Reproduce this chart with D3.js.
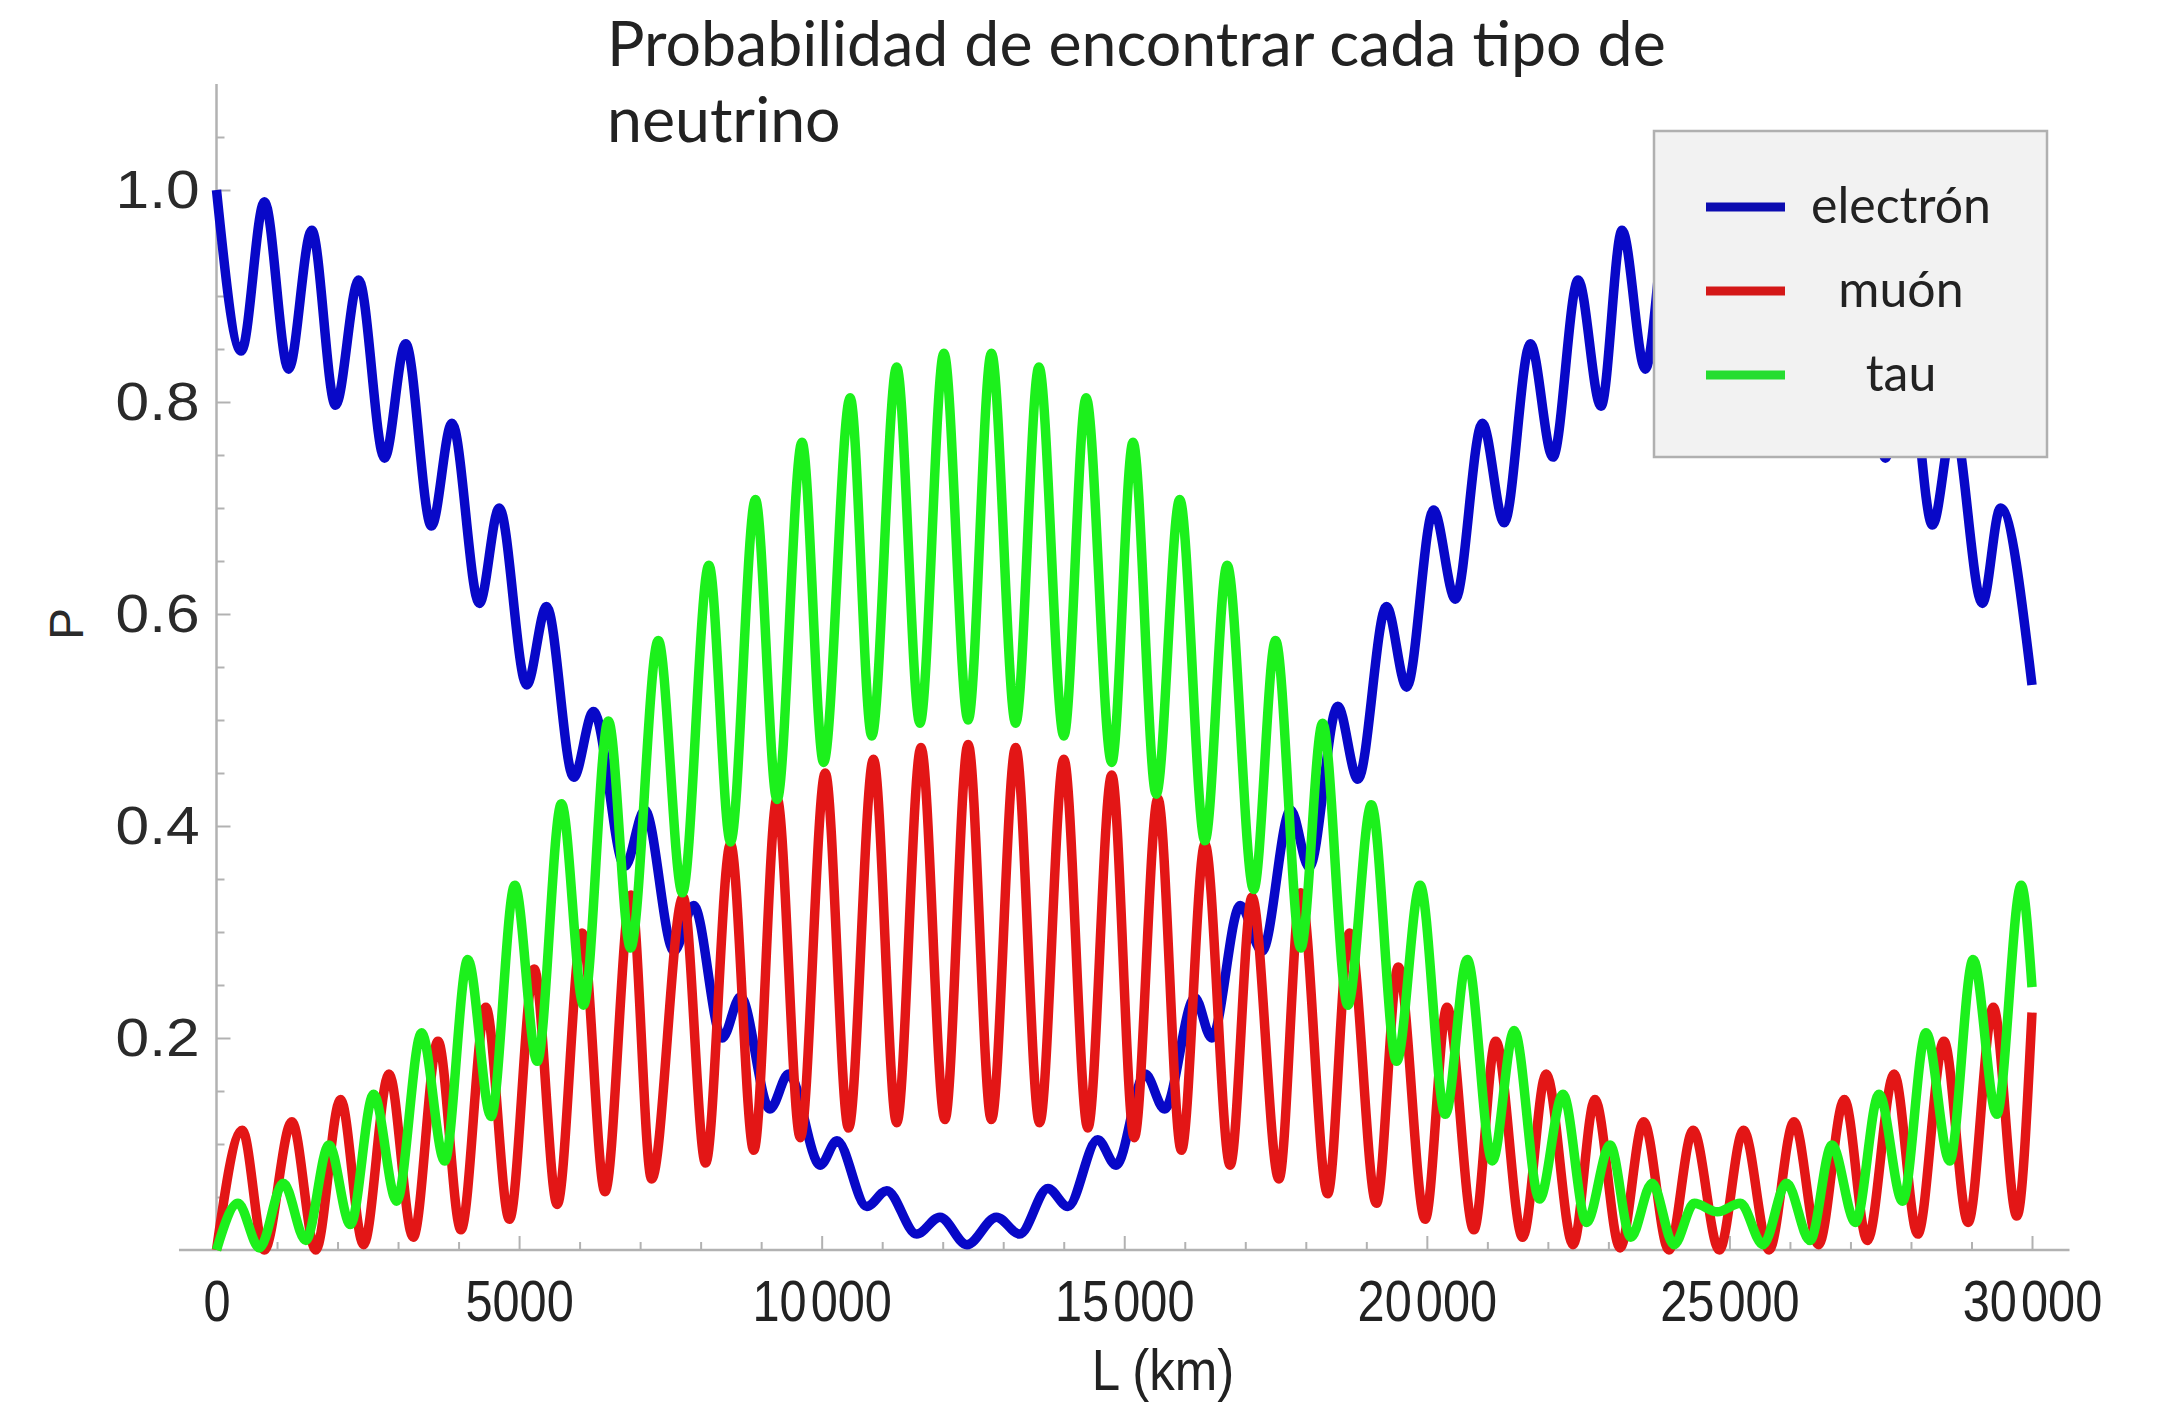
<!DOCTYPE html>
<html>
<head>
<meta charset="utf-8">
<script src="https://cdn.jsdelivr.net/npm/d3@7"></script>
<style>
html, body { margin: 0; padding: 0; background: #fff; }
svg { display: block; }
</style>
</head>
<body>
<svg id="chart"></svg>
<script>
// Extremos: [L (km), P]
const electron = [[0,1.000],[410,0.848],[792,0.989],[1191,0.831],[1574,0.962],[1967,0.797],[2350,0.915],[2776,0.747],[3126,0.855],[3552,0.683],[3891,0.780],[4344,0.610],[4672,0.700],[5126,0.533],[5454,0.607],[5902,0.446],[6230,0.508],[6749,0.362],[7077,0.415],[7560,0.282],[7885,0.325],[8357,0.200],[8660,0.239],[9145,0.133],[9455,0.166],[9977,0.080],[10252,0.103],[10746,0.041],[11075,0.056],[11570,0.015],[11954,0.031],[12400,0.005],[12888,0.031],[13272,0.015],[13739,0.058],[14068,0.041],[14562,0.104],[14864,0.080],[15345,0.166],[15667,0.133],[16167,0.238],[16444,0.200],[16917,0.325],[17278,0.282],[17750,0.415],[18056,0.361],[18528,0.513],[18861,0.444],[19333,0.607],[19667,0.531],[20111,0.698],[20472,0.614],[20917,0.780],[21278,0.686],[21711,0.855],[22083,0.748],[22500,0.915],[22878,0.796],[23226,0.962],[23611,0.831],[24010,0.989],[24390,0.844],[24800,0.964],[25210,0.844],[25590,0.989],[25990,0.831],[26370,0.962],[26770,0.797],[27150,0.915],[27576,0.747],[27930,0.855],[28355,0.684],[28700,0.780],[29180,0.610],[29480,0.700],[30000,0.533]];

const muon = [[0,0.000],[426,0.113],[790,0.000],[1246,0.121],[1640,0.000],[2050,0.142],[2430,0.005],[2850,0.166],[3250,0.012],[3660,0.197],[4040,0.019],[4450,0.229],[4840,0.029],[5250,0.265],[5630,0.043],[6040,0.299],[6420,0.055],[6850,0.335],[7190,0.067],[7710,0.333],[8082,0.082],[8494,0.383],[8879,0.094],[9263,0.426],[9647,0.106],[10059,0.450],[10444,0.115],[10856,0.463],[11240,0.120],[11641,0.474],[12036,0.123],[12420,0.477],[12805,0.123],[13206,0.474],[13601,0.120],[14002,0.463],[14398,0.115],[14793,0.448],[15166,0.106],[15556,0.426],[15944,0.094],[16333,0.383],[16750,0.080],[17111,0.333],[17556,0.067],[17917,0.337],[18361,0.053],[18722,0.299],[19167,0.044],[19528,0.267],[19972,0.029],[20333,0.229],[20778,0.019],[21139,0.197],[21583,0.012],[21972,0.166],[22417,0.005],[22778,0.142],[23194,0.002],[23583,0.121],[24000,0.000],[24400,0.113],[24833,0.000],[25233,0.113],[25656,0.000],[26067,0.121],[26472,0.005],[26900,0.142],[27278,0.009],[27722,0.166],[28111,0.015],[28544,0.197],[28944,0.026],[29361,0.229],[29750,0.032],[30000,0.224]];

const tau = [[0,0.000],[355,0.044],[710,0.002],[1104,0.063],[1475,0.009],[1858,0.099],[2213,0.024],[2596,0.147],[2978,0.046],[3388,0.205],[3770,0.084],[4153,0.274],[4536,0.126],[4929,0.344],[5300,0.178],[5699,0.421],[6066,0.231],[6475,0.499],[6842,0.285],[7300,0.575],[7698,0.337],[8137,0.646],[8494,0.385],[8906,0.708],[9263,0.425],[9675,0.762],[10032,0.460],[10471,0.804],[10828,0.485],[11240,0.833],[11624,0.497],[12020,0.846],[12420,0.500],[12805,0.846],[13206,0.497],[13590,0.833],[14002,0.485],[14370,0.804],[14793,0.460],[15145,0.762],[15528,0.430],[15917,0.708],[16333,0.386],[16700,0.646],[17139,0.340],[17500,0.575],[17917,0.285],[18278,0.497],[18694,0.231],[19083,0.420],[19500,0.178],[19889,0.344],[20306,0.128],[20667,0.274],[21083,0.084],[21444,0.207],[21861,0.048],[22250,0.147],[22639,0.026],[23028,0.099],[23370,0.012],[23722,0.063],[24083,0.005],[24420,0.044],[24800,0.036],[25180,0.044],[25556,0.005],[25944,0.063],[26333,0.009],[26694,0.099],[27083,0.026],[27472,0.147],[27861,0.046],[28250,0.205],[28639,0.084],[29028,0.274],[29417,0.128],[29822,0.344],[30000,0.248]];

const seriesNames = ["electrón", "muón", "tau"];
const seriesColors = ["#0808c8", "#e31616", "#1cf01c"];
const legendColors = ["#0c0cb0", "#d41818", "#25dd30"];

const xTicks = [0, 5000, 10000, 15000, 20000, 25000, 30000];
const xTickLabels = ["0", "5000", "10\u200a000", "15\u200a000", "20\u200a000", "25\u200a000", "30\u200a000"];
const xMinor = d3.range(1000, 30001, 1000).filter(v => v % 5000 !== 0);
const yTicks = [0.2, 0.4, 0.6, 0.8, 1.0];
const yTickLabels = ["0.2", "0.4", "0.6", "0.8", "1.0"];
const yMinor = [0.05,0.1,0.15,0.25,0.3,0.35,0.45,0.5,0.55,0.65,0.7,0.75,0.85,0.9,0.95,1.05];

const titleLines = ["Probabilidad de encontrar cada tipo de", "neutrino"];

// Dimensiones
const W = 2163, H = 1409;
const svg = d3.select("#chart").attr("width", W).attr("height", H);
svg.append("rect").attr("width", W).attr("height", H).attr("fill", "#fff");

const x = d3.scaleLinear().domain([0, 30000]).range([216.5, 2032]);
const y = d3.scaleLinear().domain([0, 1]).range([1250, 190]);

const axisColor = "#b2b2b2";

// Ejes
const gx = svg.append("g").attr("transform", `translate(0, ${y(0)})`);
gx.append("line")
  .attr("x1", x(-620)).attr("x2", x(30620))
  .attr("stroke", axisColor).attr("stroke-width", 2.5);
gx.append("g")
  .call(d3.axisBottom(x).tickValues(xMinor).tickSize(-8).tickFormat(""))
  .call(g => g.select(".domain").remove());
gx.append("g")
  .call(d3.axisBottom(x).tickValues(xTicks).tickSize(-14).tickPadding(30)
        .tickFormat((d, i) => xTickLabels[i]))
  .call(g => g.select(".domain").remove())
  .call(g => g.selectAll("text")
      .attr("fill", "#222")
      .style("font-family", "'Liberation Sans', Arial, sans-serif")
      .style("font-size", "58px")
      .attr("transform", "scale(0.84,1)"));
gx.selectAll(".tick line").attr("stroke", axisColor).attr("stroke-width", 2);

const gy = svg.append("g").attr("transform", `translate(${x(0)}, 0)`);
gy.append("line")
  .attr("y1", y(0)).attr("y2", y(1.1))
  .attr("stroke", axisColor).attr("stroke-width", 2.5);
gy.append("g")
  .call(d3.axisLeft(y).tickValues(yMinor).tickSize(-8).tickFormat(""))
  .call(g => g.select(".domain").remove());
gy.append("g")
  .call(d3.axisLeft(y).tickValues(yTicks).tickSize(-14).tickPadding(15)
        .tickFormat((d, i) => yTickLabels[i]))
  .call(g => g.select(".domain").remove())
  .call(g => g.selectAll("text")
      .attr("fill", "#2a2a2a")
      .style("font-family", "'Liberation Sans', Arial, sans-serif")
      .style("font-size", "54px")
      .attr("transform", "scale(1.12,1)"));
gy.selectAll(".tick line").attr("stroke", axisColor).attr("stroke-width", 2);

// Curvas
const line = d3.line()
  .x(d => x(d[0]))
  .y(d => y(d[1]))
  .curve(d3.curveMonotoneX);

[electron, muon, tau].forEach((serie, i) => {
  svg.append("path")
    .datum(serie)
    .attr("fill", "none")
    .attr("stroke", seriesColors[i])
    .attr("stroke-width", 9.5)
    .attr("stroke-linejoin", "round")
    .attr("d", line);
});

// Titulo
const title = svg.append("g")
  .style("font-family", "Lato, 'Open Sans', sans-serif")
  .attr("fill", "#222");
const t1 = title.append("text").attr("x", 607).attr("y", 66)
  .style("font-size", "56px").text(titleLines[0]);
const t2 = title.append("text").attr("x", 607).attr("y", 142)
  .style("font-size", "56px").text(titleLines[1]);
const fs = 56 * 1059 / t1.node().getComputedTextLength();
t1.style("font-size", fs + "px");
t2.style("font-size", fs + "px");

// Etiquetas de ejes
svg.append("text")
  .attr("transform", "translate(83, 624) rotate(-90)")
  .attr("text-anchor", "middle")
  .attr("fill", "#2a2a2a")
  .style("font-family", "'Liberation Sans', Arial, sans-serif")
  .style("font-size", "48px")
  .text("P");

svg.append("text")
  .attr("transform", "translate(1163, 1390) scale(0.88,1)")
  .attr("text-anchor", "middle")
  .attr("fill", "#222")
  .style("font-family", "'Liberation Sans', Arial, sans-serif")
  .style("font-size", "58px")
  .text("L (km)");

// Leyenda
const legend = svg.append("g");
legend.append("rect")
  .attr("x", 1654).attr("y", 131)
  .attr("width", 393).attr("height", 326)
  .attr("fill", "#f2f2f2")
  .attr("stroke", "#b0b0b0")
  .attr("stroke-width", 2.5);
const legY = [207, 291, 375];
seriesNames.forEach((name, i) => {
  legend.append("line")
    .attr("x1", 1706).attr("x2", 1785)
    .attr("y1", legY[i]).attr("y2", legY[i])
    .attr("stroke", legendColors[i])
    .attr("stroke-width", 9);
  legend.append("text")
    .attr("x", 1901).attr("y", legY[i] + 16)
    .attr("text-anchor", "middle")
    .attr("fill", "#222")
    .style("font-family", "Lato, 'Open Sans', sans-serif")
    .style("font-size", "50px")
    .text(name);
});
</script>
</body>
</html>
